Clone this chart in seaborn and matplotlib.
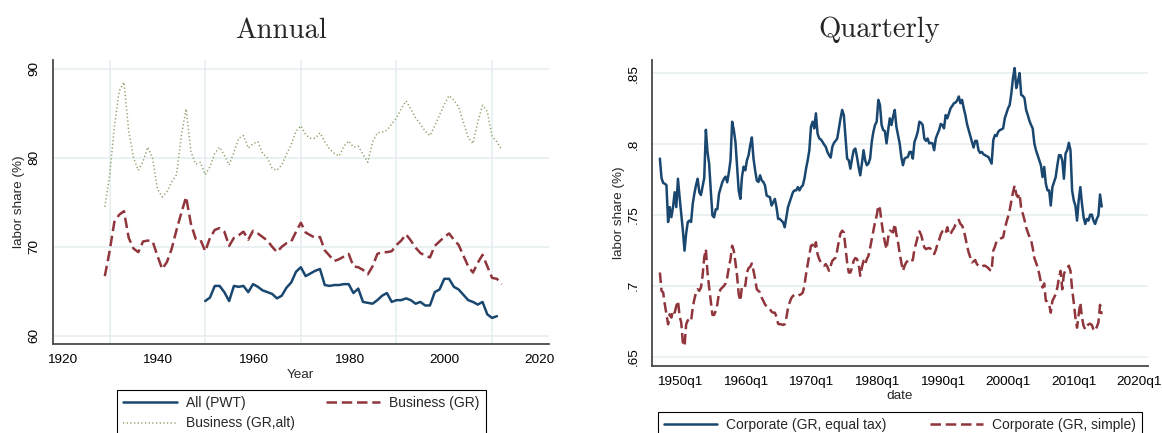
import numpy as np
import pandas as pd
import matplotlib
matplotlib.use("Agg")
import matplotlib.pyplot as plt
import seaborn as sns

# ---------------- data ----------------
# Annual panel
years_pwt = list(range(1950, 2012))
labor_pwt = [63.9, 64.3, 65.6, 65.6, 64.9, 63.9, 65.6, 65.5, 65.6, 64.9,
             65.8, 65.5, 65.1, 64.9, 64.7, 64.2, 64.5, 65.4, 66.0, 67.2,
             67.7, 66.7, 67.0, 67.3, 67.5, 65.7, 65.6, 65.7, 65.7, 65.8,
             65.8, 64.8, 65.3, 63.8, 63.7, 63.6, 64.0, 64.5, 64.8, 63.8,
             64.0, 64.0, 64.2, 64.0, 63.6, 63.8, 63.4, 63.4, 64.9, 65.2,
             66.4, 66.4, 65.5, 65.2, 64.6, 64.0, 63.8, 63.5, 63.8, 62.4,
             62.0, 62.2]

years_gr = list(range(1929, 2013))
labor_gr = [66.7, 69.5, 72.8, 73.6, 74.0, 71.0, 69.8, 69.4, 70.6, 70.7,
            70.6, 69.0, 67.5, 68.3, 69.8, 71.9, 73.8, 75.6, 72.6, 70.9,
            70.8, 69.5, 71.0, 71.9, 72.1, 71.7, 70.1, 71.0, 71.3, 71.7,
            70.8, 71.8, 71.5, 71.1, 70.7, 70.0, 69.4, 70.0, 70.4, 70.6,
            71.7, 72.7, 71.6, 71.3, 71.0, 71.1, 69.6, 69.0, 68.4, 68.6,
            68.9, 69.2, 67.8, 67.7, 67.4, 66.9, 67.8, 69.2, 69.4, 69.4,
            69.5, 70.2, 70.7, 71.4, 70.7, 69.9, 69.3, 69.0, 68.8, 70.1,
            70.6, 71.1, 71.5, 70.8, 70.2, 69.0, 67.8, 67.1, 68.2, 69.1,
            67.8, 66.5, 66.4, 65.8]
labor_gr_alt = [74.5, 78.0, 83.5, 87.5, 88.5, 83.0, 80.0, 78.6, 79.6, 81.2,
                79.9, 76.5, 75.6, 76.2, 77.3, 78.1, 82.5, 85.5, 80.7, 79.3,
                79.5, 78.1, 79.0, 80.5, 81.2, 80.3, 79.2, 80.6, 82.2, 82.5,
                81.1, 81.6, 81.8, 80.5, 80.0, 78.8, 78.6, 79.2, 80.4, 81.5,
                83.0, 83.6, 82.6, 82.2, 82.2, 82.8, 81.8, 81.0, 80.5, 80.2,
                81.3, 81.9, 81.2, 81.3, 80.4, 79.5, 81.8, 82.8, 82.9, 83.1,
                83.8, 84.5, 85.5, 86.4, 85.5, 84.5, 83.8, 83.0, 82.5, 83.6,
                84.8, 86.0, 87.0, 86.5, 85.7, 84.0, 82.3, 81.6, 84.0, 85.9,
                85.2, 82.4, 81.8, 80.9]

# Quarterly panel: 1947q1 onwards
first_quarter_year = 1947
corp_equal_tax = [
    0.7897, 0.7760, 0.7725, 0.7720, 0.7710, 0.7450, 0.7555, 0.7484, 0.7555, 0.7660,
    0.7555, 0.7755, 0.7625, 0.7510, 0.7390, 0.7248, 0.7370, 0.7450, 0.7460, 0.7450,
    0.7578, 0.7650, 0.7710, 0.7755, 0.7660, 0.7640, 0.7700, 0.7760, 0.8100, 0.7944,
    0.7860, 0.7670, 0.7496, 0.7483, 0.7540, 0.7540, 0.7650, 0.7690, 0.7730, 0.7755,
    0.7770, 0.7730, 0.7800, 0.7885, 0.8157, 0.8100, 0.8015, 0.7840, 0.7670, 0.7613,
    0.7770, 0.7840, 0.7814, 0.7885, 0.7920, 0.7992, 0.8046, 0.7897, 0.7814, 0.7743,
    0.7732, 0.7779, 0.7743, 0.7732, 0.7708, 0.7637, 0.7630, 0.7625, 0.7566, 0.7590,
    0.7613, 0.7555, 0.7472, 0.7472, 0.7460, 0.7448, 0.7413, 0.7483, 0.7555, 0.7590,
    0.7625, 0.7660, 0.7673, 0.7673, 0.7696, 0.7673, 0.7696, 0.7708, 0.7755, 0.7826,
    0.7885, 0.7956, 0.8122, 0.8157, 0.8110, 0.8216, 0.8074, 0.8039, 0.8032, 0.8015,
    0.7996, 0.7980, 0.7944, 0.7921, 0.7904, 0.7980, 0.8008, 0.8022, 0.8039, 0.8110,
    0.8181, 0.8240, 0.8204, 0.8051, 0.7897, 0.7885, 0.7826, 0.7897, 0.7956, 0.7968,
    0.7909, 0.7838, 0.7779, 0.7862, 0.7956, 0.7885, 0.7850, 0.7862, 0.7897, 0.8015,
    0.8086, 0.8134, 0.8157, 0.8311, 0.8275, 0.8134, 0.8098, 0.8091, 0.8004, 0.8098,
    0.8181, 0.8134, 0.8193, 0.8240, 0.8122, 0.8063, 0.8004, 0.7909, 0.7850, 0.7897,
    0.7904, 0.7909, 0.7944, 0.7944, 0.7897, 0.8015, 0.8046, 0.8086, 0.8157, 0.8150,
    0.8134, 0.8039, 0.8022, 0.8039, 0.8004, 0.8008, 0.8004, 0.7956, 0.8039, 0.8070,
    0.8098, 0.8141, 0.8134, 0.8110, 0.8204, 0.8181, 0.8216, 0.8252, 0.8268, 0.8287,
    0.8292, 0.8306, 0.8335, 0.8287, 0.8311, 0.8252, 0.8204, 0.8141, 0.8098, 0.8056,
    0.8015, 0.7975, 0.8022, 0.8022, 0.7956, 0.7937, 0.7944, 0.7928, 0.7921, 0.7914,
    0.7909, 0.7885, 0.7862, 0.8027, 0.8063, 0.8056, 0.8086, 0.8098, 0.8103, 0.8110,
    0.8181, 0.8216, 0.8252, 0.8275, 0.8358, 0.8465, 0.8535, 0.8394, 0.8441, 0.8500,
    0.8346, 0.8339, 0.8323, 0.8240, 0.8204, 0.8164, 0.8134, 0.8110, 0.8004, 0.7956,
    0.7921, 0.7885, 0.7850, 0.7767, 0.7838, 0.7720, 0.7673, 0.7673, 0.7566, 0.7696,
    0.7732, 0.7767, 0.7850, 0.7921, 0.7921, 0.7885, 0.7755, 0.7933, 0.7956, 0.8008,
    0.7956, 0.7673, 0.7602, 0.7566, 0.7460, 0.7602, 0.7696, 0.7578, 0.7483, 0.7436,
    0.7472, 0.7460, 0.7502, 0.7502, 0.7460, 0.7436, 0.7472, 0.7495, 0.7644, 0.7559]
corp_simple = [
    0.7094, 0.6965, 0.6953, 0.6870, 0.6800, 0.6729, 0.6800, 0.6776, 0.6828, 0.6811,
    0.6858, 0.6894, 0.6788, 0.6741, 0.6599, 0.6575, 0.6729, 0.6757, 0.6764, 0.6752,
    0.6847, 0.6906, 0.6953, 0.6976, 0.6965, 0.6988, 0.7071, 0.7200, 0.7259, 0.7094,
    0.6988, 0.6894, 0.6795, 0.6795, 0.6823, 0.6870, 0.6953, 0.6976, 0.6988, 0.7000,
    0.7017, 0.7059, 0.7130, 0.7189, 0.7283, 0.7248, 0.7165, 0.7071, 0.6941, 0.6894,
    0.7000, 0.7007, 0.7000, 0.7094, 0.7125, 0.7134, 0.7158, 0.7106, 0.7047, 0.6976,
    0.6965, 0.6953, 0.6917, 0.6894, 0.6870, 0.6854, 0.6842, 0.6835, 0.6818, 0.6811,
    0.6811, 0.6781, 0.6733, 0.6729, 0.6729, 0.6724, 0.6729, 0.6776, 0.6842, 0.6882,
    0.6913, 0.6929, 0.6936, 0.6936, 0.6929, 0.6936, 0.6941, 0.6953, 0.7000, 0.7083,
    0.7153, 0.7219, 0.7283, 0.7290, 0.7259, 0.7307, 0.7224, 0.7189, 0.7165, 0.7149,
    0.7142, 0.7153, 0.7134, 0.7106, 0.7142, 0.7177, 0.7189, 0.7200, 0.7252, 0.7318,
    0.7370, 0.7389, 0.7377, 0.7271, 0.7165, 0.7094, 0.7094, 0.7130, 0.7177, 0.7196,
    0.7189, 0.7153, 0.7071, 0.7130, 0.7177, 0.7153, 0.7189, 0.7212, 0.7267, 0.7330,
    0.7389, 0.7448, 0.7495, 0.7566, 0.7542, 0.7448, 0.7366, 0.7307, 0.7259, 0.7342,
    0.7389, 0.7384, 0.7377, 0.7436, 0.7361, 0.7307, 0.7229, 0.7165, 0.7106, 0.7142,
    0.7165, 0.7177, 0.7189, 0.7177, 0.7182, 0.7259, 0.7300, 0.7347, 0.7384, 0.7361,
    0.7318, 0.7271, 0.7259, 0.7264, 0.7267, 0.7259, 0.7248, 0.7224, 0.7252, 0.7295,
    0.7323, 0.7361, 0.7384, 0.7366, 0.7370, 0.7413, 0.7361, 0.7366, 0.7389, 0.7406,
    0.7432, 0.7448, 0.7465, 0.7436, 0.7425, 0.7394, 0.7342, 0.7283, 0.7236, 0.7200,
    0.7165, 0.7172, 0.7182, 0.7153, 0.7142, 0.7134, 0.7134, 0.7142, 0.7142, 0.7134,
    0.7125, 0.7111, 0.7106, 0.7248, 0.7276, 0.7314, 0.7323, 0.7330, 0.7337, 0.7342,
    0.7401, 0.7448, 0.7488, 0.7535, 0.7597, 0.7660, 0.7708, 0.7644, 0.7625, 0.7649,
    0.7542, 0.7507, 0.7465, 0.7413, 0.7377, 0.7347, 0.7323, 0.7267, 0.7196, 0.7165,
    0.7130, 0.7083, 0.7024, 0.6988, 0.7017, 0.6894, 0.6889, 0.6870, 0.6811, 0.6894,
    0.6917, 0.6941, 0.6988, 0.7059, 0.7106, 0.6976, 0.7083, 0.7111, 0.7125, 0.7142,
    0.7106, 0.6976, 0.6882, 0.6776, 0.6705, 0.6800, 0.6882, 0.6776, 0.6717, 0.6693,
    0.6717, 0.6729, 0.6733, 0.6724, 0.6693, 0.6682, 0.6710, 0.6741, 0.6866, 0.6800]

annual_xticks = [1920, 1940, 1960, 1980, 2000, 2020]
annual_yticks = [60, 70, 80, 90]
quarter_tick_years = [1950, 1960, 1970, 1980, 1990, 2000, 2010, 2020]
quarter_tick_labels = ["1950q1", "1960q1", "1970q1", "1980q1",
                       "1990q1", "2000q1", "2010q1", "2020q1"]
quarter_yticks = [0.65, 0.70, 0.75, 0.80, 0.85]
quarter_ytick_labels = [".65", ".7", ".75", ".8", ".85"]

df_q = pd.DataFrame({
    "date": first_quarter_year + np.arange(len(corp_equal_tax)) / 4.0,
    "equal": corp_equal_tax,
    "simple": corp_simple,
})

# ---------------- style ----------------
sns.set_theme(style="white")
plt.rcParams["font.family"] = ["Liberation Sans", "DejaVu Sans"]

NAVY = "#1a476f"
MAROON = "#90353b"
GREEN = "#8aa068"
GRID = "#e4edef"
AXC = "#4a4a4a"
W, H = 1162, 433

fig = plt.figure(figsize=(W / 100, H / 100), dpi=100)
fig.patch.set_facecolor("white")

axL = fig.add_axes([52.7 / W, 1 - 344 / H, (549 - 52.7) / W, (344 - 60) / H])
axR = fig.add_axes([652 / W, 1 - 366 / H, (1148 - 652) / W, (366 - 60) / H])

dash = (0, (4.2, 1.9))
dots = (0, (0.8, 1.6))

sns.lineplot(x=years_pwt, y=labor_pwt, ax=axL, color=NAVY, lw=1.8, label="All (PWT)")
sns.lineplot(x=years_gr, y=labor_gr, ax=axL, color=MAROON, lw=1.8, linestyle=dash,
             label="Business (GR)")
sns.lineplot(x=years_gr, y=labor_gr_alt, ax=axL, color=GREEN, lw=1.1, linestyle=dots,
             label="Business (GR,alt)")

sns.lineplot(data=df_q, x="date", y="equal", ax=axR, color=NAVY, lw=1.8,
             label="Corporate (GR, equal tax)")
sns.lineplot(data=df_q, x="date", y="simple", ax=axR, color=MAROON, lw=1.8, linestyle=dash,
             label="Corporate (GR, simple)")

for ax in (axL, axR):
    ax.set_facecolor("white")
    ax.set_xlabel("")
    ax.set_ylabel("")
    for s in ("top", "right"):
        ax.spines[s].set_visible(False)
    for s in ("left", "bottom"):
        ax.spines[s].set_color(AXC)
        ax.spines[s].set_linewidth(1.3)
    ax.tick_params(axis="both", which="major", direction="out", length=5, width=0.9,
                   color=AXC, labelsize=9.7, labelcolor="black", pad=2.5)
    ax.tick_params(axis="y", labelrotation=90, pad=4)

# Left panel
axL.set_xlim(1918.1, 2021.9)
axL.set_ylim(59.07, 91.0)
axL.set_xticks(annual_xticks)
axL.set_yticks(annual_yticks)
axL.set_xticks(list(range(1930, 2011, 10)), minor=True)
axL.tick_params(axis="x", which="minor", length=0)
axL.grid(False)
axL.grid(axis="x", which="minor", color=GRID, lw=1.1)
axL.grid(axis="y", which="major", color=GRID, lw=1.1)
axL.set_axisbelow(True)

# Right panel
axR.set_xlim(1945.8, 2021.3)
axR.set_ylim(0.6435, 0.8592)
axR.set_xticks(quarter_tick_years)
axR.set_xticklabels(quarter_tick_labels)
axR.set_yticks(quarter_yticks)
axR.set_yticklabels(quarter_ytick_labels)
axR.grid(False)
axR.grid(axis="y", which="major", color=GRID, lw=1.1)
axR.set_axisbelow(True)

for ax in (axL, axR):
    for lab in ax.get_yticklabels():
        lab.set_va("center")

# Titles and axis labels
fig.text(281 / W, 1 - 38.5 / H, "Annual", family="cmr10", fontsize=20.7,
         ha="center", va="baseline")
fig.text(879 / W, 1 - 37 / H, "Quarterly", family="cmr10", fontsize=20.7,
         ha="center", va="baseline")
fig.text(19 / W, 1 - 202 / H, "labor share (%)", rotation=90, fontsize=9.7,
         ha="center", va="center")
fig.text(619 / W, 1 - 213 / H, "labor share (%)", rotation=90, fontsize=9.7,
         ha="center", va="center")
fig.text(300 / W, 1 - 375 / H, "Year", fontsize=9.7, ha="center", va="center")
fig.text(900 / W, 1 - 396 / H, "date", fontsize=9.7, ha="center", va="center")

# Legends (Stata style boxes below plots)
for ax in (axL, axR):
    if ax.get_legend() is not None:
        ax.get_legend().remove()

hL, lL = axL.get_legend_handles_labels()
order = [0, 2, 1]
legL = axL.legend([hL[i] for i in order], [lL[i] for i in order],
                  loc="upper left", bbox_to_anchor=(116.7 / W, 1 - 390 / H - 0.3, (486 - 116.7) / W, 0.3),
                  bbox_transform=fig.transFigure, mode="expand", ncol=2,
                  frameon=True, fancybox=False, edgecolor="black", framealpha=1,
                  fontsize=10, handlelength=3.9, handletextpad=0.65, borderpad=0.45,
                  labelspacing=0.45, borderaxespad=0)
legL.get_frame().set_linewidth(0.8)

hR, lR = axR.get_legend_handles_labels()
legR = axR.legend(hR, lR,
                  loc="upper left", bbox_to_anchor=(658 / W, 1 - 412 / H - 0.3, (1142 - 658) / W, 0.3),
                  bbox_transform=fig.transFigure, mode="expand", ncol=2,
                  frameon=True, fancybox=False, edgecolor="black", framealpha=1,
                  fontsize=10, handlelength=3.8, handletextpad=0.65, borderpad=0.45,
                  labelspacing=0.45, borderaxespad=0)
legR.get_frame().set_linewidth(0.8)

fig.savefig("out.png", dpi=100, facecolor="white")
